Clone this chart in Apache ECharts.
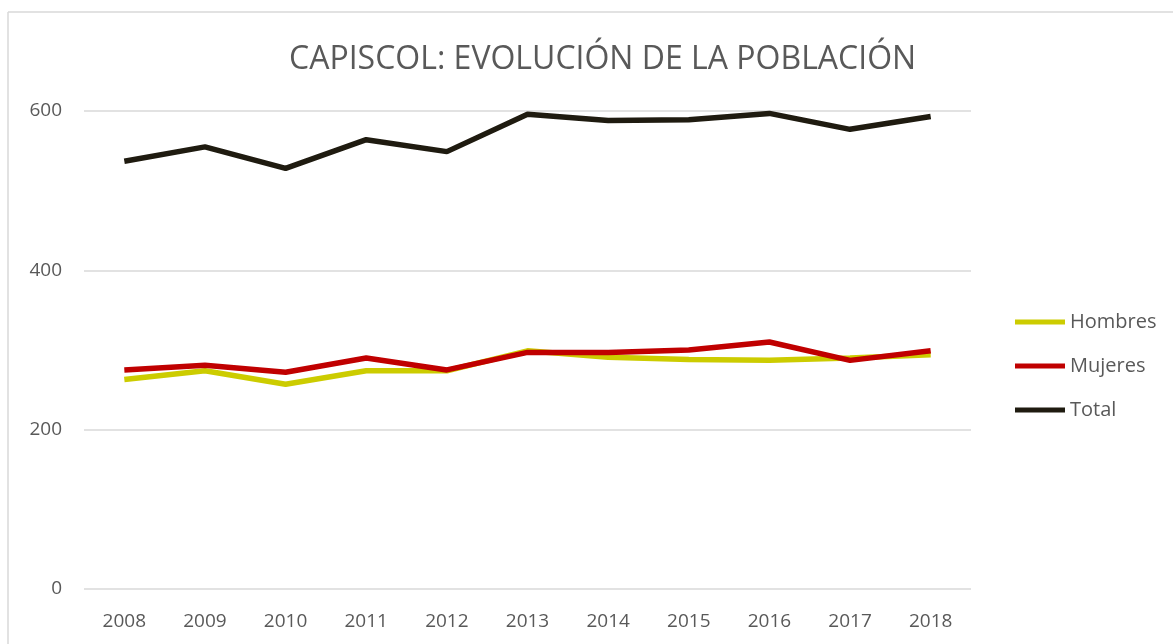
<!DOCTYPE html>
<html>
<head>
<meta charset="utf-8">
<script src="https://cdn.jsdelivr.net/npm/echarts@6/dist/echarts.min.js"></script>
<style>
  html, body { margin: 0; padding: 0; background: #fff; }
  #chart { width: 1173px; height: 644px; }
</style>
</head>
<body>
<div id="chart"></div>
<script>
// datos
var years = ['2008', '2009', '2010', '2011', '2012', '2013', '2014', '2015', '2016', '2017', '2018'];
var hombres = [263, 274, 257, 274, 274, 299, 291, 288, 287, 290, 294];
var mujeres = [275, 281, 272, 290, 275, 297, 297, 300, 310, 287, 299];
var total = [537, 555, 528, 564, 549, 596, 588, 589, 597, 577, 593];
var yTicks = [0, 200, 400, 600];

var chart = echarts.init(document.getElementById('chart'));
var fuente = '"Open Sans", sans-serif';

var option = {
  backgroundColor: '#fff',
  animation: false,
  title: {
    text: 'CAPISCOL: EVOLUCIÓN DE LA POBLACIÓN',
    left: 284,
    top: 39,
    textStyle: { color: '#595959', fontSize: 32, fontWeight: 'normal', fontFamily: fuente }
  },
  legend: {
    orient: 'vertical',
    left: 1010,
    top: 307,
    itemWidth: 50,
    itemHeight: 5,
    itemGap: 24,
    icon: 'rect',
    data: ['Hombres', 'Mujeres', 'Total'],
    textStyle: { color: '#595959', fontSize: 20, lineHeight: 20, fontFamily: fuente }
  },
  grid: { left: 84, right: 202, top: 111, bottom: 55 },
  xAxis: {
    type: 'category',
    data: years,
    boundaryGap: true,
    axisLine: { show: false },
    axisTick: { show: false },
    axisLabel: { color: '#595959', fontSize: 19, margin: 23, fontFamily: fuente }
  },
  yAxis: {
    type: 'value',
    min: yTicks[0],
    max: yTicks[yTicks.length - 1],
    interval: 200,
    axisLine: { show: false },
    axisTick: { show: false },
    axisLabel: { color: '#595959', fontSize: 19, margin: 22, fontFamily: fuente },
    splitLine: { lineStyle: { color: '#d9d9d9', width: 1.5 } }
  },
  graphic: [
    { type: 'line', shape: { x1: 8, y1: 12, x2: 1173, y2: 12 }, style: { stroke: '#d9d9d9', lineWidth: 1.5 } },
    { type: 'line', shape: { x1: 8, y1: 12, x2: 8, y2: 644 }, style: { stroke: '#d9d9d9', lineWidth: 1.5 } }
  ],
  series: [
    { name: 'Hombres', type: 'line', data: hombres, showSymbol: false, color: '#cccc00', lineStyle: { width: 5.5, color: '#cccc00' } },
    { name: 'Mujeres', type: 'line', data: mujeres, showSymbol: false, color: '#c00000', lineStyle: { width: 5.5, color: '#c00000' } },
    { name: 'Total', type: 'line', data: total, showSymbol: false, color: '#1f1b10', lineStyle: { width: 5.5, color: '#1f1b10' } }
  ]
};

chart.setOption(option);
</script>
</body>
</html>
